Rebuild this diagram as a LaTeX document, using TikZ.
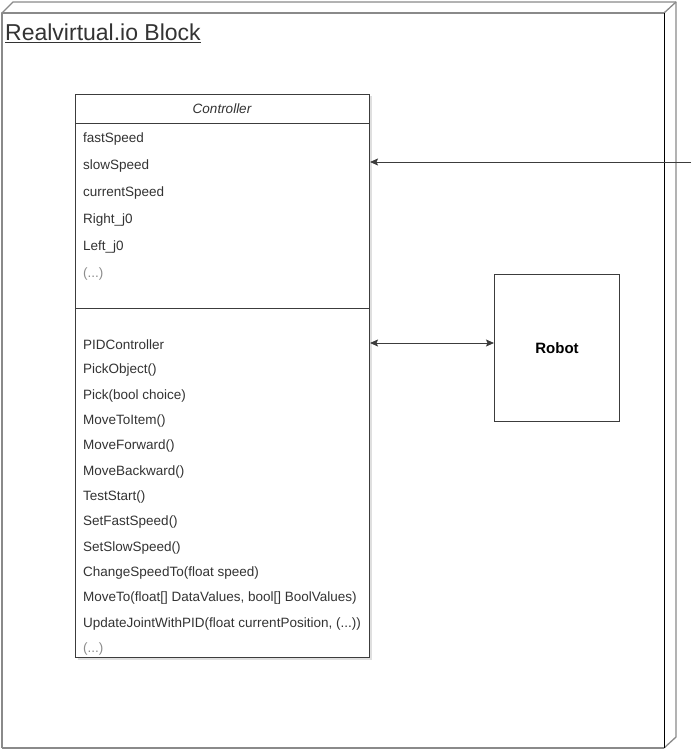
\documentclass[tikz,border=0pt]{standalone}
\usepackage{fontspec}
\setmainfont{Liberation Sans}
\usetikzlibrary{arrows.meta,shadows}
\definecolor{cubeline}{HTML}{8A8A8A}
\definecolor{boxline}{HTML}{3C3C3C}
\definecolor{txt}{HTML}{333333}
\definecolor{faint}{HTML}{8C8C8C}
\newcommand{\etcdots}{...}
\tikzset{
  cubeedge/.style={draw=cubeline, line width=1.3pt, line join=round},
  umlbox/.style={draw=boxline, line width=1pt, fill=white,
    drop shadow={opacity=0.25, shadow xshift=2pt, shadow yshift=-2pt}},
  member/.style={anchor=west, inner sep=0pt, text=txt,
    font=\fontsize{13.5}{15}\selectfont},
  moreitems/.style={member, text=faint},
  link/.style={draw=boxline, line width=1pt,
    -{Stealth[length=8pt,width=7pt,inset=1.5pt]}},
  twoway/.style={draw=boxline, line width=1pt,
    {Stealth[length=8pt,width=7pt,inset=1.5pt]}-{Stealth[length=8pt,width=7pt,inset=1.5pt]}},
}
\begin{document}
\begin{tikzpicture}[x=1pt,y=-1pt]
\useasboundingbox (0,0) rectangle (691,749);

% block drawn as a shallow cube
\coordinate (fnw) at (2,13);
\coordinate (fne) at (664,13);
\coordinate (fse) at (664,748);
\coordinate (fsw) at (2,748);
\coordinate (bnw) at (13,2);
\coordinate (bne) at (676,2);
\coordinate (bse) at (676,737);
\path[fill=white] (fsw) -- (fnw) -- (bnw) -- (bne) -- (bse) -- (fse) -- cycle;
\draw[cubeedge] (fsw) -- (fnw) -- (fne);
\draw[cubeedge] (fnw) -- (bnw) -- (bne) -- (bse) -- (fse);
\draw[cubeedge] (fne) -- (bne);
\draw[draw=black, line width=0.9pt] (fne) -- (fse);
\draw[cubeedge] (fsw) -- (fse);

\node[anchor=base west, inner sep=0pt, text=txt,
      font=\fontsize{23}{25}\selectfont] (title) at (5,41)
      {\underline{Realvirtual.io Block}};

% class box
\node[umlbox, anchor=north west, minimum width=294, minimum height=563,
      inner sep=0pt] (ctrl) at (75,94) {};
\coordinate (hdr) at (0,124);
\coordinate (sep) at (0,308);
\draw[boxline, line width=1pt] (ctrl.west |- hdr) -- (ctrl.east |- hdr);
\draw[boxline, line width=1pt] (ctrl.west |- sep) -- (ctrl.east |- sep);
\node[text=txt, inner sep=0pt, font=\fontsize{13.5}{15}\selectfont\itshape]
      (ctrlname) at (222,109) {Controller};

% attributes
\foreach \t [count=\i from 0] in {fastSpeed, slowSpeed, currentSpeed,
    Right\_j0, Left\_j0}
  \node[member] (attr\i) at (83,139+27*\i) {\t};
\node[moreitems] (attrmore) at (83,274) {(\etcdots)};

% operations
\foreach \t [count=\i from 0] in {PIDController, PickObject(),
    Pick(bool choice), MoveToItem(), MoveForward(), MoveBackward(),
    TestStart(), SetFastSpeed(), SetSlowSpeed(),
    ChangeSpeedTo(float speed),
    {MoveTo(float[] DataValues, bool[] BoolValues)},
    {UpdateJointWithPID(float currentPosition, (\etcdots))}}
  \node[member] (op\i) at (83,345+25.33*\i) {\t};
\node[moreitems] (opmore) at (83,649) {(\etcdots)};

% robot
\node[draw=boxline, line width=1pt, fill=white, minimum width=125,
      minimum height=147, anchor=north west, inner sep=0pt,
      text=black, font=\fontsize{15}{17}\selectfont\bfseries]
      (robot) at (494,274) {Robot};

% connectors
\coordinate (src) at (691,162);
\draw[link] (src) -- (src -| ctrl.east);
\coordinate (rlink) at (494,343);
\draw[twoway] (rlink -| ctrl.east) -- (rlink -| robot.west);
\end{tikzpicture}
\end{document}
